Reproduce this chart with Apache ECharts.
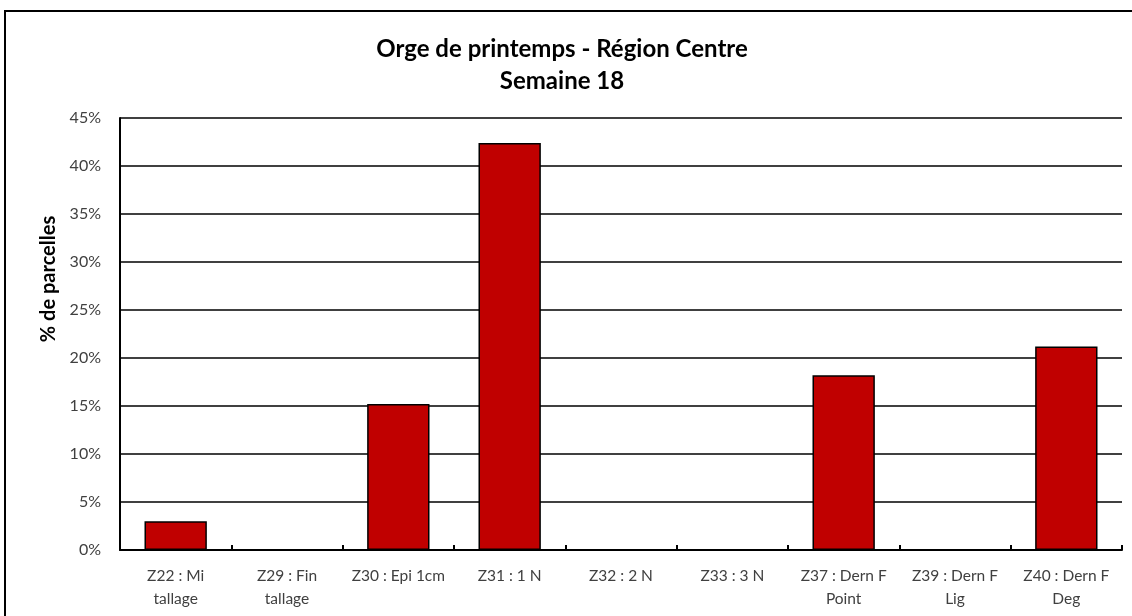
<!DOCTYPE html>
<html>
<head>
<meta charset="utf-8">
<script src="https://cdn.jsdelivr.net/npm/echarts@6/dist/echarts.min.js"></script>
<style>
html, body { margin: 0; padding: 0; background: #fff; overflow: hidden; }
#frame { position: absolute; left: 4px; top: 10px; width: 1140px; height: 620px; border: 2px solid #000; box-sizing: border-box; }
#myChart { position: absolute; left: 0; top: 0; width: 1132px; height: 616px; }
</style>
</head>
<body>
<div id="frame"></div>
<div id="myChart"></div>
<script>
// stades
const categories = [
	'Z22 : Mi\ntallage',
	'Z29 : Fin\ntallage',
	'Z30 : Epi 1cm',
	'Z31 : 1 N',
	'Z32 : 2 N',
	'Z33 : 3 N',
	'Z37 : Dern F\nPoint',
	'Z39 : Dern F\nLig',
	'Z40 : Dern F\nDeg'
]
// % de parcelles
const values = [3.0, 0, 15.2, 42.4, 0, 0, 18.2, 0, 21.2]
const titleLines = ['Orge de printemps - Région Centre', 'Semaine 18']

const chart = echarts.init(document.getElementById('myChart'))
const option = {
	animation: false,
	textStyle: { fontFamily: 'Lato' },
	title: {
		text: titleLines.join('\n'),
		left: 557,
		textAlign: 'center',
		top: 28,
		textStyle: {
			fontFamily: 'Lato',
			fontSize: 24,
			fontWeight: 'bold',
			color: '#000',
			lineHeight: 32
		}
	},
	grid: {
		left: 120,
		right: 10,
		top: 118,
		bottom: 66
	},
	xAxis: {
		type: 'category',
		data: categories,
		axisLine: { lineStyle: { color: '#000', width: 2 } },
		axisTick: { show: true, inside: true, length: 5, lineStyle: { color: '#000', width: 2 } },
		axisLabel: {
			color: '#404040',
			fontSize: 15.5,
			lineHeight: 23,
			margin: 14,
			interval: 0
		}
	},
	yAxis: {
		type: 'value',
		min: 0,
		max: 45,
		interval: 5,
		name: '% de parcelles',
		nameLocation: 'middle',
		nameGap: 60,
		nameTextStyle: {
			fontFamily: 'Lato',
			fontSize: 20,
			fontWeight: 'bold',
			color: '#000',
			padding: [0, 0, 0, 110]
		},
		axisLine: { show: true, lineStyle: { color: '#000', width: 2 } },
		axisTick: { show: false },
		axisLabel: {
			formatter: '{value}%',
			color: '#404040',
			fontSize: 16,
			margin: 19
		},
		splitLine: { lineStyle: { color: '#000', width: 1.5 } }
	},
	series: [
		{
			type: 'bar',
			data: values,
			barCategoryGap: '44%',
			itemStyle: {
				color: '#C00000',
				borderColor: '#000',
				borderWidth: 1.5
			}
		}
	]
}
chart.setOption(option)
</script>
</body>
</html>
